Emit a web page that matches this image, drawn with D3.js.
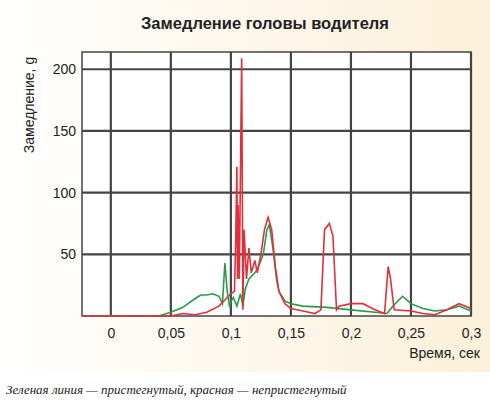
<!DOCTYPE html><html><head><meta charset="utf-8"><script src="https://cdn.jsdelivr.net/npm/d3@7"></script>
<style>body{margin:0;background:#fff}</style></head><body><svg id="c" width="490" height="405"></svg>
<script>
const xTicks=[0,0.05,0.1,0.15,0.2,0.25,0.3];
const xTickLabels=["0","0,05","0,1","0,15","0,2","0,25","0,3"];
const yTicks=[50,100,150,200];
const greenT=[-0.024,0.03,0.04,0.05,0.06,0.07,0.075,0.08,0.085,0.09,0.093,0.095,0.097,0.099,0.1,0.102,0.105,0.108,0.11,0.112,0.115,0.12,0.123,0.127,0.13,0.132,0.135,0.138,0.14,0.145,0.15,0.16,0.18,0.2,0.22,0.23,0.235,0.243,0.25,0.26,0.27,0.28,0.29,0.3];
const greenV=[0,0,0,3,7,14,17,17,18,16,10,43,20,7,12,15,8,18,8,22,30,35,40,50,70,74,55,30,20,12,10,8,7,5,3,2,8,16,10,6,4,5,8,4];
const redT=[-0.024,0.05,0.06,0.07,0.08,0.09,0.095,0.1,0.103,0.104,0.105,0.1055,0.106,0.107,0.109,0.110,0.111,0.113,0.115,0.117,0.12,0.122,0.125,0.128,0.131,0.134,0.137,0.14,0.145,0.15,0.16,0.17,0.175,0.178,0.182,0.185,0.188,0.19,0.2,0.21,0.22,0.228,0.231,0.233,0.236,0.25,0.26,0.27,0.28,0.29,0.3];
const redV=[0,0,2,1,3,8,13,18,20,60,121,30,90,30,209,5,70,30,55,35,45,35,50,70,80,70,40,20,10,6,4,2,5,70,75,65,5,8,10,10,5,2,40,30,5,4,2,1,5,10,6];
const svg=d3.select("#c");
const g0=svg.append("defs").append("linearGradient").attr("id","bg").attr("x1",0).attr("x2",1);
g0.append("stop").attr("offset",0).attr("stop-color","#fff");g0.append("stop").attr("offset",1).attr("stop-color","#fbf0d8");
svg.append("rect").attr("width",490).attr("height",372).attr("fill","url(#bg)");
const x=d3.scaleLinear().domain([-0.024,0.3]).range([82,471]);
const y=d3.scaleLinear().domain([0,214]).range([316,52]);
svg.append("rect").attr("x",82).attr("y",52).attr("width",389).attr("height",264).attr("fill","#fff").attr("stroke","#444").attr("stroke-width",1.5);
svg.selectAll(".vx").data(xTicks).enter().append("line").attr("x1",d=>x(d)).attr("x2",d=>x(d)).attr("y1",52).attr("y2",316).attr("stroke","#444").attr("stroke-width",2.2);
svg.selectAll(".hy").data(yTicks).enter().append("line").attr("x1",82).attr("x2",471).attr("y1",d=>y(d)).attr("y2",d=>y(d)).attr("stroke","#444").attr("stroke-width",2.2);
const xa=svg.append("g").attr("transform","translate(0,316)").call(d3.axisBottom(x).tickValues(xTicks).tickFormat((d,i)=>xTickLabels[i]).tickSize(0).tickPadding(12));
const ya=svg.append("g").attr("transform","translate(82,0)").call(d3.axisLeft(y).tickValues(yTicks).tickSize(0).tickPadding(6));
[xa,ya].forEach(a=>{a.select(".domain").remove();a.selectAll("text").attr("font-family","Arial, Liberation Sans").attr("font-size",14).attr("fill","#222");});
const line=d3.line().x(d=>x(d[0])).y(d=>y(d[1]));
svg.append("path").datum(greenT.map((t,i)=>[t,greenV[i]])).attr("d",line).attr("fill","none").attr("stroke","#2a9a4a").attr("stroke-width",1.6);
svg.append("path").datum(redT.map((t,i)=>[t,redV[i]])).attr("d",line).attr("fill","none").attr("stroke","#e0303c").attr("stroke-width",1.6);
svg.append("text").attr("x",265).attr("y",29).attr("text-anchor","middle").attr("font-family","Arial, Liberation Sans").attr("font-weight","bold").attr("font-size",16.5).attr("fill","#222").text("Замедление головы водителя");
svg.append("text").attr("transform","translate(34,105) rotate(-90)").attr("text-anchor","middle").attr("font-family","Arial, Liberation Sans").attr("font-size",14).attr("fill","#222").text("Замедление, g");
svg.append("text").attr("x",480).attr("y",358).attr("text-anchor","end").attr("font-family","Arial, Liberation Sans").attr("font-size",14).attr("fill","#222").text("Время, сек");
svg.append("text").attr("x",6).attr("y",394).attr("font-family","Liberation Serif, DejaVu Serif").attr("font-style","italic").attr("font-size",13).attr("fill","#222").text("Зеленая линия — пристегнутый, красная — непристегнутый");
</script></body></html>
